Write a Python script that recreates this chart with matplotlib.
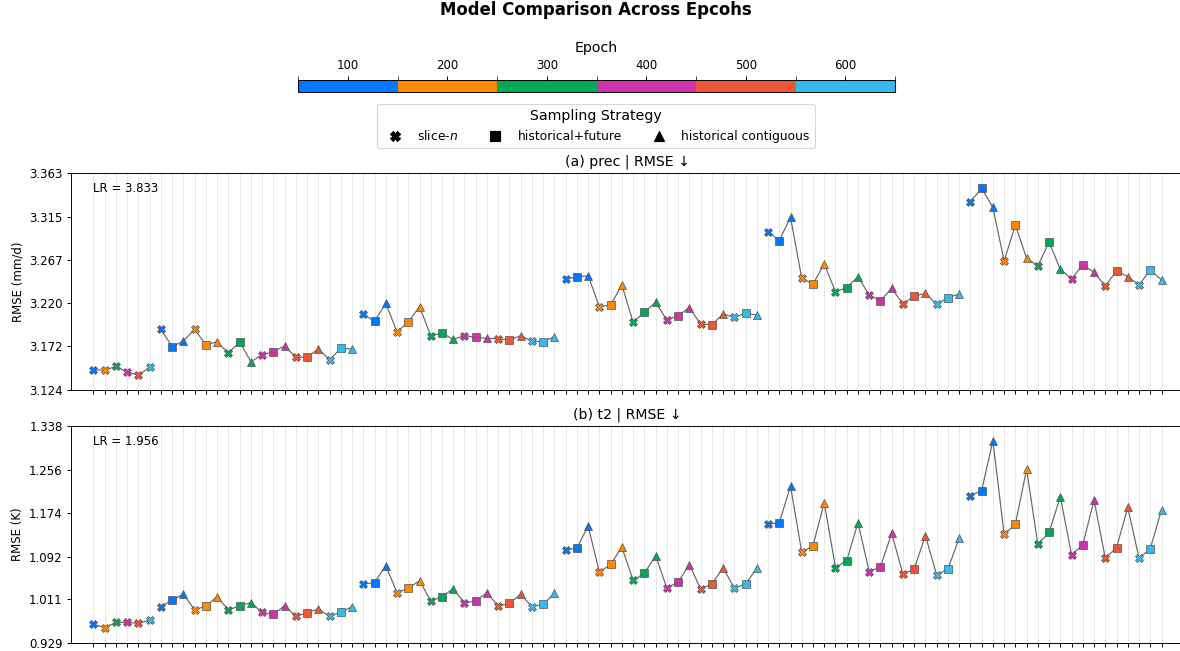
import matplotlib
matplotlib.use('Agg')
import matplotlib.pyplot as plt
import matplotlib.colors as mcolors
import matplotlib.colorbar as mcolorbar
from matplotlib.lines import Line2D
import numpy as np

epochs = [100, 200, 300, 400, 500, 600]
epoch_colors = ['#0077FF', '#FF8800', '#00AA55', '#CC33AA', '#EE5533', '#33BBEE']
strategies = ['slice-$n$', 'historical+future', 'historical contiguous']
strategy_markers = ['X', 's', '^']

# baseline run: slice-n only, one point per epoch
prec_base = [3.146, 3.146, 3.150, 3.144, 3.1405, 3.149]
t2_base = [0.964, 0.958, 0.968, 0.968, 0.966, 0.972]

# five runs, each: for every epoch -> slice-n, historical+future, historical contiguous
prec_runs = [
    [3.1908, 3.1717, 3.1780, 3.1908, 3.1736, 3.1772, 3.1644, 3.1772, 3.1552,
     3.1626, 3.1662, 3.1725, 3.1600, 3.1600, 3.1692, 3.1571, 3.1700, 3.1692],
    [3.2074, 3.1997, 3.2195, 3.1879, 3.1989, 3.2158, 3.1838, 3.1865, 3.1799,
     3.1838, 3.1820, 3.1808, 3.1805, 3.1790, 3.1838, 3.1776, 3.1772, 3.1827],
    [3.2463, 3.2485, 3.2499, 3.2158, 3.2176, 3.2397, 3.1986, 3.2096, 3.2206,
     3.2011, 3.2059, 3.2147, 3.1967, 3.1960, 3.2077, 3.2041, 3.2085, 3.2066],
    [3.2984, 3.2885, 3.3142, 3.2470, 3.2408, 3.2628, 3.2323, 3.2367, 3.2488,
     3.2286, 3.2224, 3.2360, 3.2187, 3.2275, 3.2305, 3.2184, 3.2257, 3.2297],
    [3.3314, 3.3461, 3.3252, 3.2661, 3.3057, 3.2691, 3.2606, 3.2870, 3.2569,
     3.2463, 3.2620, 3.2536, 3.2386, 3.2551, 3.2488, 3.2397, 3.2562, 3.2452],
]
t2_runs = [
    [0.9974, 1.0101, 1.0208, 0.9912, 0.9988, 1.0163, 0.9912, 0.9993, 1.0050,
     0.9869, 0.9831, 0.9993, 0.9793, 0.9861, 0.9931, 0.9793, 0.9869, 0.9974],
    [1.0402, 1.0427, 1.0747, 1.0238, 1.0321, 1.0464, 1.0082, 1.0163, 1.0314,
     1.0038, 1.0087, 1.0238, 0.9982, 1.0038, 1.0208, 0.9974, 1.0019, 1.0227],
    [1.1043, 1.1080, 1.1495, 1.0623, 1.0773, 1.1094, 1.0472, 1.0604, 1.0936,
     1.0327, 1.0440, 1.0766, 1.0314, 1.0397, 1.0710, 1.0321, 1.0402, 1.0698],
    [1.1533, 1.1552, 1.2249, 1.1000, 1.1124, 1.1935, 1.0710, 1.0842, 1.1558,
     1.0634, 1.0728, 1.1358, 1.0585, 1.0685, 1.1313, 1.0572, 1.0685, 1.1264],
    [1.2067, 1.2161, 1.3103, 1.1339, 1.1527, 1.2564, 1.1150, 1.1376, 1.2048,
     1.0949, 1.1143, 1.1985, 1.0886, 1.1087, 1.1848, 1.0886, 1.1068, 1.1797],
]

prec_ticks = [3.124, 3.172, 3.220, 3.267, 3.315, 3.363]
t2_ticks = [0.929, 1.011, 1.092, 1.174, 1.256, 1.338]

panels = [
    ('(a) prec | RMSE \u2193', 'RMSE (mm/d)', 'LR = 3.833', prec_base, prec_runs, prec_ticks),
    ('(b) t2 | RMSE \u2193', 'RMSE (K)', 'LR = 1.956', t2_base, t2_runs, t2_ticks),
]

W, H, DPI = 1180, 651, 85
fig = plt.figure(figsize=(W / DPI, H / DPI), dpi=DPI)

fig.text(596 / W, 1 - 10 / H, 'Model Comparison Across Epcohs', ha='center', va='center',
         fontsize=14, fontweight='bold')

# epoch colour key
cax = fig.add_axes([298 / W, 1 - 92 / H, 597 / W, 12 / H])
cmap = mcolors.ListedColormap(epoch_colors)
bounds = [e - 50 for e in epochs] + [epochs[-1] + 50]
norm = mcolors.BoundaryNorm(bounds, cmap.N)
cb = mcolorbar.ColorbarBase(cax, cmap=cmap, norm=norm, orientation='horizontal',
                            ticklocation='top', ticks=epochs)
cb.set_label('Epoch', fontsize=12, labelpad=6)
cax.set_xticks(bounds, minor=True)
cax.tick_params(which='minor', length=3.5)
cax.tick_params(which='major', labelsize=10)

handles = [Line2D([], [], marker=m, color='black', linestyle='None', markersize=8)
           for m in strategy_markers]
fig.legend(handles, strategies, loc='upper center', bbox_to_anchor=(596 / W, 1 - 104 / H),
           borderaxespad=0, ncol=3, fontsize=10.5, title='Sampling Strategy',
           title_fontsize=12)

axes_top = [173, 426]
for (title, ylabel, lr_text, base, runs, ticks), top in zip(panels, axes_top):
    ax = fig.add_axes([71 / W, 1 - (top + 217) / H, 1113 / W, 217 / H])

    segments = [(base, [0] * len(base))]
    for run in runs:
        segments.append((run, [0, 1, 2] * len(epochs)))

    x0 = 0
    for vals, strat_idx in segments:
        n = len(vals)
        xs = np.arange(x0, x0 + n)
        ax.plot(xs, vals, color='#666666', lw=1.0, zorder=2)
        for i in range(n):
            if len(vals) == len(epochs):
                c = epoch_colors[i]
            else:
                c = epoch_colors[i // 3]
            ax.plot(xs[i], vals[i], marker=strategy_markers[strat_idx[i]], color=c,
                    markersize=7, markeredgecolor='#555555', markeredgewidth=0.6,
                    linestyle='None', zorder=3)
        x0 += n

    ax.set_xlim(-2, x0 + 1)
    ax.set_xticks(np.arange(x0))
    ax.set_xticklabels([])
    ax.grid(axis='x', color='#e6e6e6', lw=0.8, zorder=0)
    ax.set_ylim(ticks[0], ticks[-1])
    ax.set_yticks(ticks)
    ax.set_yticklabels(['%.3f' % t for t in ticks])
    ax.set_ylabel(ylabel, fontsize=10)
    ax.set_title(title, fontsize=12)
    ax.text(0.02, 0.927, lr_text, transform=ax.transAxes, fontsize=10, va='center')

fig.savefig('out.png', dpi=DPI)
